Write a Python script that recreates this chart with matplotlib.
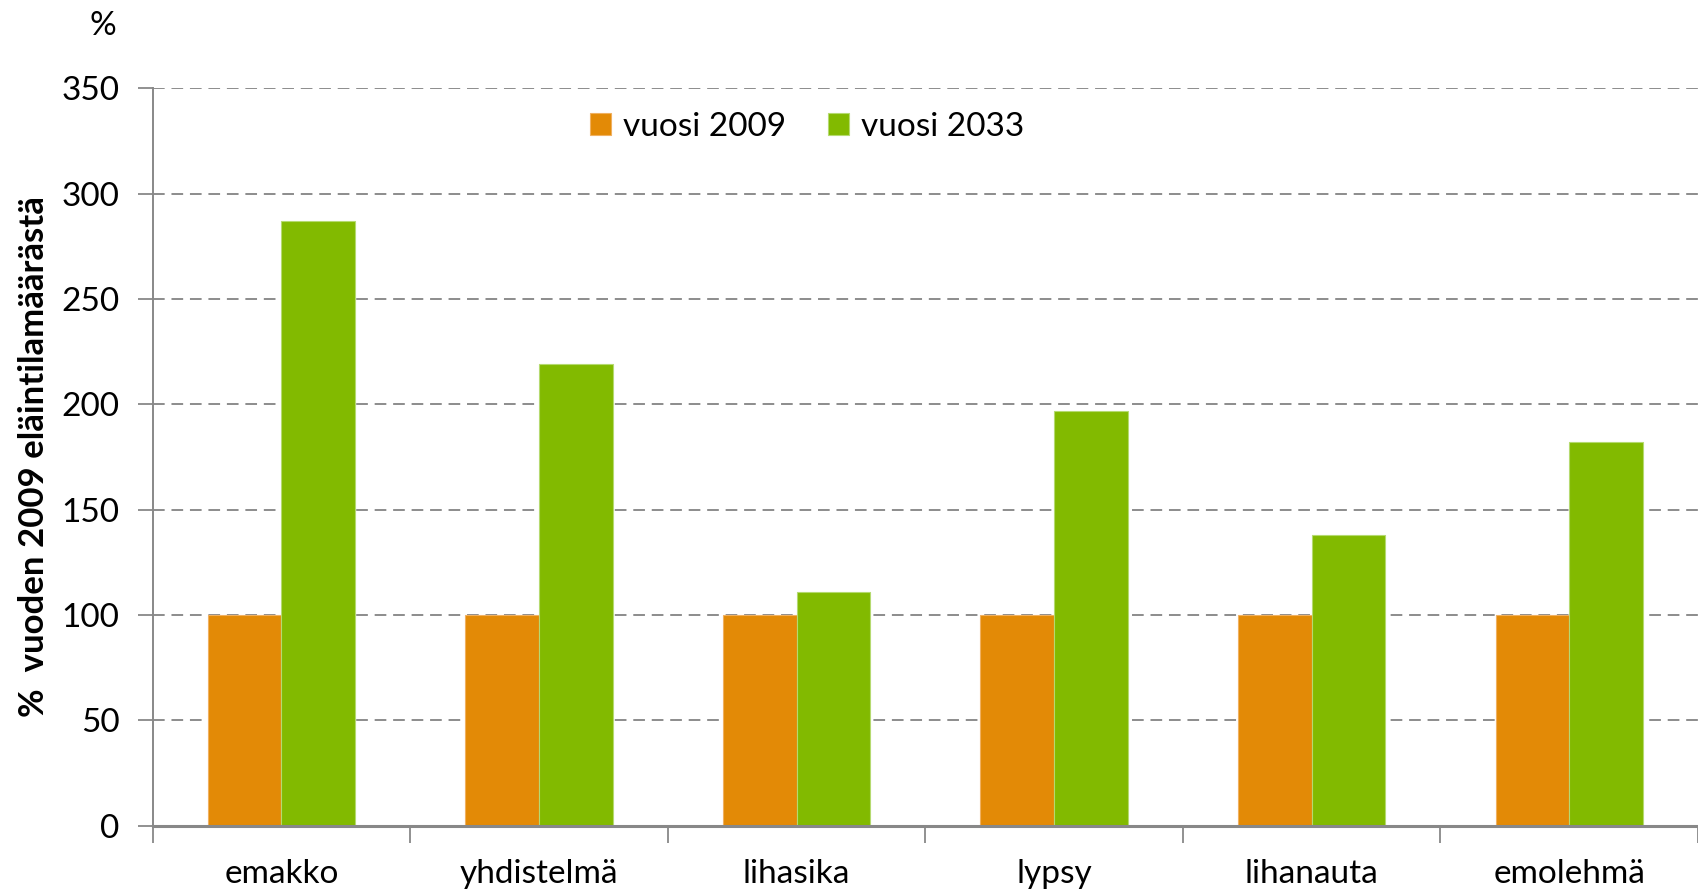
import matplotlib
matplotlib.use("Agg")
import matplotlib.pyplot as plt
import numpy as np

categories = ["emakko", "yhdistelmä", "lihasika", "lypsy", "lihanauta", "emolehmä"]
vuosi_2009 = [100, 100, 100, 100, 100, 100]
vuosi_2033 = [287, 219, 111, 197, 138, 182]
series_labels = ["vuosi 2009", "vuosi 2033"]
yticks = [0, 50, 100, 150, 200, 250, 300, 350]

plt.rcParams['font.family'] = ['Lato', 'DejaVu Sans']

fig = plt.figure(figsize=(16.98, 8.92), dpi=100)
L = 152.7
B = 825.5
T = 88.3
ax = fig.add_axes([L/1698, 1-B/892, 1-L/1698, (B-T)/892])

x = np.arange(len(categories))
w = 0.286
orange = "#E38A06"
green = "#82BA00"
ax.bar(x - w/2, vuosi_2009, width=w, color=orange, edgecolor="#F0B060", linewidth=0.8, label=series_labels[0], zorder=3)
ax.bar(x + w/2, vuosi_2033, width=w, color=green, edgecolor="#B5DA70", linewidth=0.8, label=series_labels[1], zorder=3)

ax.set_xlim(-0.5, -0.5 + (1698 - L) / 258.8)
ax.set_ylim(0, 350)
ax.set_yticks(yticks)
ax.set_yticklabels([str(v) for v in yticks], fontsize=24)
ax.set_xticks(x)
ax.set_xticklabels(categories, fontsize=24)
ax.set_xticks(np.arange(len(categories) + 1) - 0.5, minor=True)
ax.tick_params(axis='x', which='major', length=0, pad=24)
ax.tick_params(axis='x', which='minor', length=12, width=1.3, color="#888888", direction='out')
ax.tick_params(axis='y', which='major', length=11, width=1.3, color="#888888", direction='out', pad=13)

ax.yaxis.grid(True, linestyle=(0, (6, 3.5)), color="#8c8c8c", linewidth=1.4, zorder=0)
ax.set_axisbelow(True)

for s in ["top", "right"]:
    ax.spines[s].set_visible(False)
ax.spines["left"].set_color("#888888")
ax.spines["left"].set_linewidth(1.4)
ax.spines["bottom"].set_color("#888888")
ax.spines["bottom"].set_linewidth(2.2)
ax.spines["bottom"].set_zorder(4)

fig.text(34/1698, 1 - 457/892, "%  vuoden 2009 eläintilamäärästä", fontsize=25, fontweight='bold',
         rotation=90, ha='center', va='center')

fig.text(103/1698, 1-26/892, "%", fontsize=24, ha='center', va='center')

leg = ax.legend(loc='center', ncol=2, frameon=False, fontsize=24, handlelength=0.65, handleheight=0.65,
                handletextpad=0.35, columnspacing=1.25)
leg.set_bbox_to_anchor(((807-L)/(1698-L), 1 - (127-T)/(B-T)), transform=ax.transAxes)

fig.savefig("out.png", dpi=100)
